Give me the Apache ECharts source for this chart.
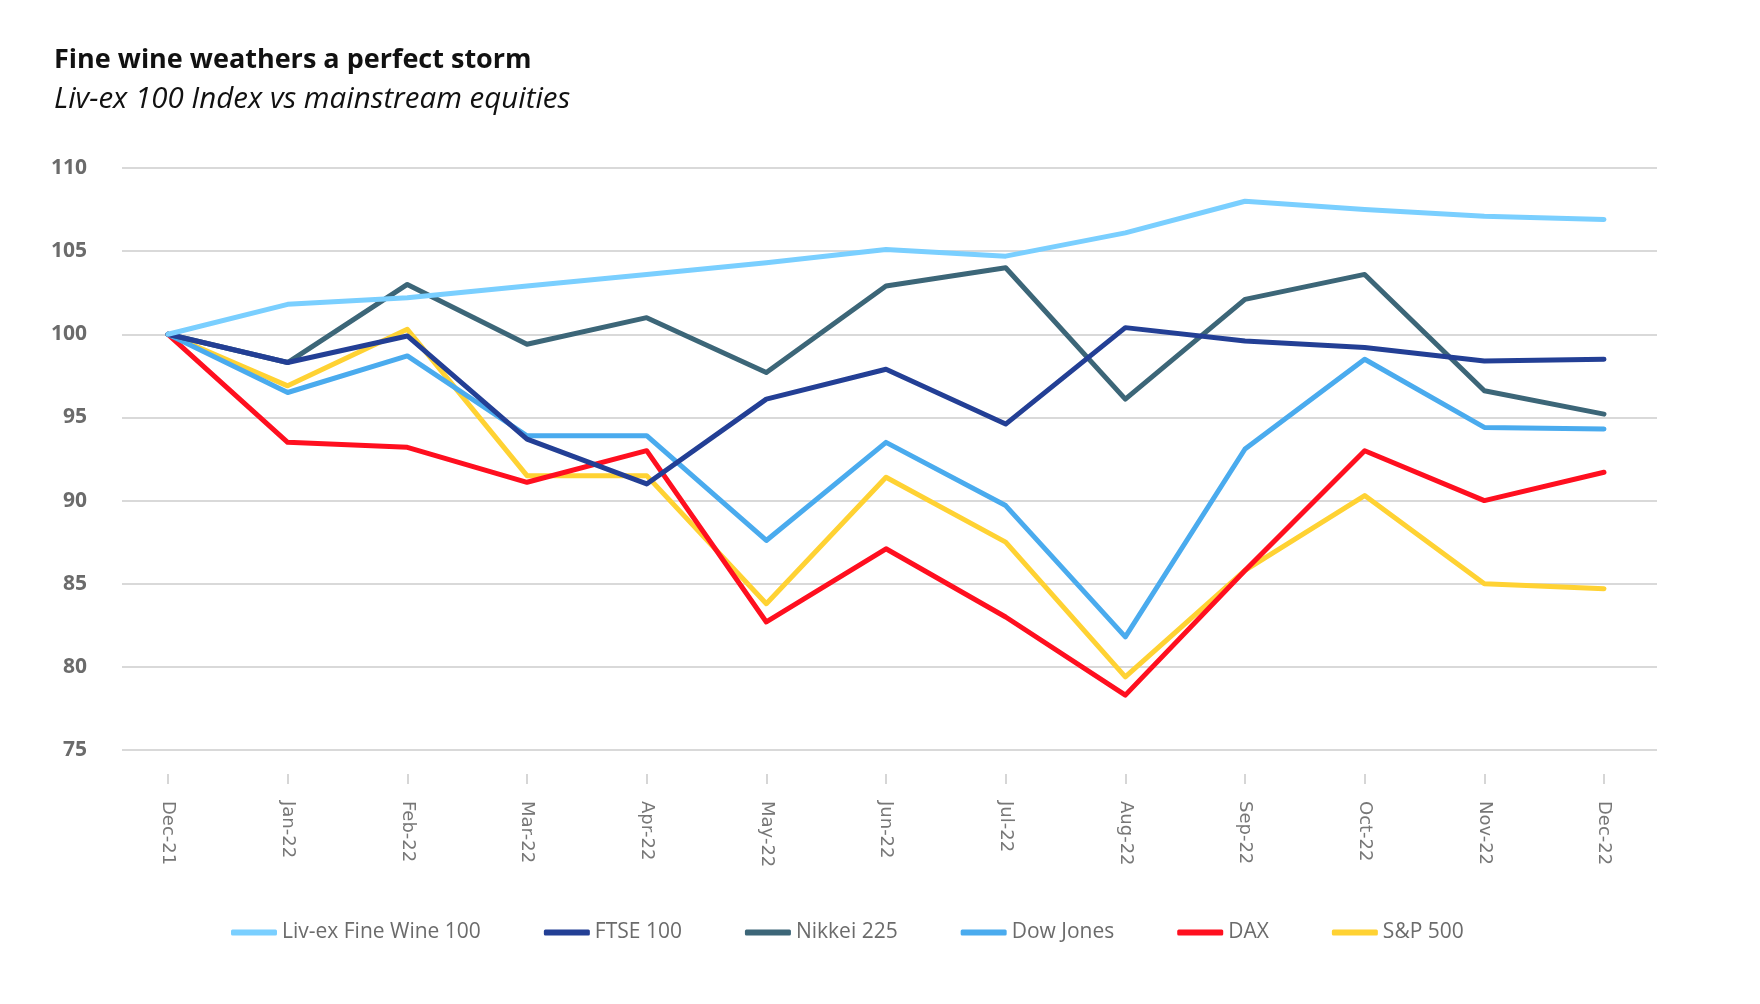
<!DOCTYPE html>
<html>
<head>
    <meta charset="utf-8">
    <title>Fine wine weathers a perfect storm</title>
    <script type="text/javascript" src="https://cdn.jsdelivr.net/npm/echarts@6/dist/echarts.min.js"></script>
    <style>
        html, body { margin: 0; padding: 0; background: #fff; }
    </style>
</head>
<body>
    <div id="main" style="width:1760px; height:1004px;"></div>
    <script type="text/javascript">

    // months on the x axis
    var months = ['Dec-21', 'Jan-22', 'Feb-22', 'Mar-22', 'Apr-22', 'May-22', 'Jun-22',
                  'Jul-22', 'Aug-22', 'Sep-22', 'Oct-22', 'Nov-22', 'Dec-22'];

    // index values, rebased to 100 at Dec-21
    var livex   = [100, 101.8, 102.2, 102.9, 103.6, 104.3, 105.1, 104.7, 106.1, 108.0, 107.5, 107.1, 106.9];
    var ftse    = [100, 98.3, 99.9, 93.7, 91.0, 96.1, 97.9, 94.6, 100.4, 99.6, 99.2, 98.4, 98.5];
    var nikkei  = [100, 98.3, 103.0, 99.4, 101.0, 97.7, 102.9, 104.0, 96.1, 102.1, 103.6, 96.6, 95.2];
    var dow     = [100, 96.5, 98.7, 93.9, 93.9, 87.6, 93.5, 89.7, 81.8, 93.1, 98.5, 94.4, 94.3];
    var dax     = [100, 93.5, 93.2, 91.1, 93.0, 82.7, 87.1, 83.0, 78.3, 85.8, 93.0, 90.0, 91.7];
    var sp500   = [100, 96.9, 100.3, 91.5, 91.5, 83.8, 91.4, 87.5, 79.4, 85.8, 90.3, 85.0, 84.7];

    var yTicks = [75, 80, 85, 90, 95, 100, 105, 110];

    var names  = ['Liv-ex Fine Wine 100', 'FTSE 100', 'Nikkei 225', 'Dow Jones', 'DAX', 'S&P 500'];
    var colors = ['#7acfff', '#233f95', '#3c6678', '#4aabee', '#ff0f1f', '#ffd233'];
    var values = [livex, ftse, nikkei, dow, dax, sp500];

    var fontFamily = '"Open Sans", "Noto Sans", sans-serif';

    var myChart = echarts.init(document.getElementById('main'));

    var series = names.map(function (name, i) {
        return {
            name: name,
            type: 'line',
            xAxisIndex: 1,
            yAxisIndex: 1,
            data: values[i],
            symbol: 'none',
            lineStyle: { width: 5, color: colors[i], cap: 'round', join: 'round' },
            itemStyle: { color: colors[i] },
            z: 10 - i
        };
    });

    var option = {
        backgroundColor: '#fff',
        textStyle: { fontFamily: fontFamily },
        title: [{
            text: 'Fine wine weathers a perfect storm',
            left: 49,
            top: 42,
            textStyle: { fontSize: 27, fontWeight: 'bold', color: '#111', fontFamily: fontFamily }
        }, {
            text: 'Liv-ex 100 Index vs mainstream equities',
            left: 49,
            top: 80,
            textStyle: { fontSize: 29.5, fontWeight: 'normal', fontStyle: 'italic', color: '#111', fontFamily: fontFamily }
        }],
        legend: {
            data: names,
            left: 226,
            top: 917,
            icon: 'roundRect',
            itemWidth: 46,
            itemHeight: 6,
            itemGap: 63,
            textStyle: { fontSize: 21, color: '#6b6b6b', fontFamily: fontFamily }
        },
        // grid 0 carries the horizontal grid lines and the y labels,
        // grid 1 carries the lines themselves (narrower, points start inside)
        grid: [
            { left: 122, right: 103, top: 168, bottom: 254 },
            { left: 168, right: 156, top: 168, bottom: 254 }
        ],
        xAxis: [{
            gridIndex: 0,
            type: 'category',
            data: months,
            show: false
        }, {
            gridIndex: 1,
            type: 'category',
            data: months,
            boundaryGap: false,
            offset: 24,
            axisLine: { show: false },
            axisTick: { show: true, alignWithLabel: true, length: 10, lineStyle: { color: '#d6d6d6', width: 2 } },
            axisLabel: {
                rotate: -90,
                margin: 27,
                fontSize: 18,
                color: '#777',
                fontFamily: '"DejaVu Sans", sans-serif'
            },
            splitLine: { show: false }
        }],
        yAxis: [{
            gridIndex: 0,
            type: 'value',
            min: yTicks[0],
            max: yTicks[yTicks.length - 1],
            interval: 5,
            axisLine: { show: false },
            axisTick: { show: false },
            axisLabel: {
                margin: 35,
                fontSize: 21,
                fontWeight: 'bold',
                color: '#6b6b6b',
                fontFamily: fontFamily
            },
            splitLine: { lineStyle: { color: '#d9d9d9', width: 2 } }
        }, {
            gridIndex: 1,
            type: 'value',
            min: yTicks[0],
            max: yTicks[yTicks.length - 1],
            interval: 5,
            show: false,
            splitLine: { show: false }
        }],
        series: series
    };

    myChart.setOption(option);
    </script>
</body>
</html>
